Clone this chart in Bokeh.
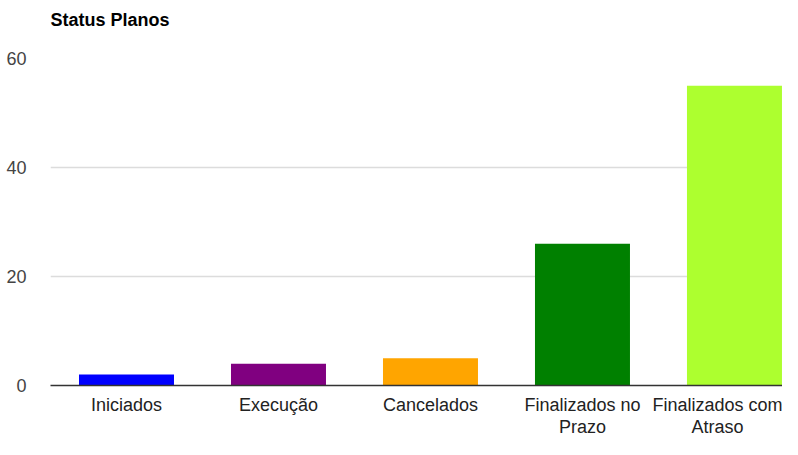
from bokeh.plotting import figure
from bokeh.models import Range1d, FixedTicker, ColumnDataSource, Title
from bokeh.embed import file_html
from bokeh.resources import INLINE

title_text = "Status Planos"
categories = ["Iniciados", "Execução", "Cancelados", "Finalizados no\nPrazo", "Finalizados com\nAtraso"]
values = [2, 4, 5, 26, 55]
colors = ["#0000ff", "#800080", "#ffa500", "#008000", "#adff2f"]
y_ticks = [0, 20, 40, 60]

xs = list(range(len(categories)))
src = ColumnDataSource(dict(x=xs, top=values, color=colors))

p = figure(width=782, height=439, output_backend="svg", toolbar_location=None,
           x_range=Range1d(-0.5, 4.316), y_range=Range1d(0, 60),
           min_border_left=50, min_border_right=0, min_border_top=58, min_border_bottom=0,
           title=title_text)
p.title.text_font = "Liberation Sans"
p.title.text_font_size = "18px"
p.title.text_font_style = "bold"
p.title.text_color = "#000000"
p.title.align = "left"
p.title.standoff = 10

# spacer between the title and the plot area
p.add_layout(Title(text=" ", text_font_size="1px", standoff=21), "above")

p.vbar(x="x", top="top", width=0.625, bottom=0, color="color", source=src, line_color=None)

p.outline_line_color = None
p.xgrid.grid_line_color = None
p.ygrid.grid_line_color = "#dcdcdc"
p.ygrid.grid_line_width = 1.5

p.yaxis.ticker = FixedTicker(ticks=y_ticks)
p.yaxis.axis_line_color = None
p.yaxis.major_tick_line_color = None
p.yaxis.minor_tick_line_color = None
p.yaxis.major_label_standoff = 18
p.yaxis.major_label_text_font = "Liberation Sans"
p.yaxis.major_label_text_font_size = "18px"
p.yaxis.major_label_text_color = "#444444"

p.xaxis.ticker = FixedTicker(ticks=xs)
p.xaxis.major_label_overrides = {i: c for i, c in zip(xs, categories)}
p.xaxis.axis_line_color = "#333333"
p.xaxis.axis_line_width = 1.5
p.xaxis.major_tick_line_color = None
p.xaxis.minor_tick_line_color = None
p.xaxis.major_label_standoff = 3
p.xaxis.major_label_text_line_height = 1.1
p.xaxis.major_label_text_font = "Liberation Sans"
p.xaxis.major_label_text_font_size = "18px"
p.xaxis.major_label_text_color = "#222222"

open("out.html", "w").write(file_html(p, INLINE))
